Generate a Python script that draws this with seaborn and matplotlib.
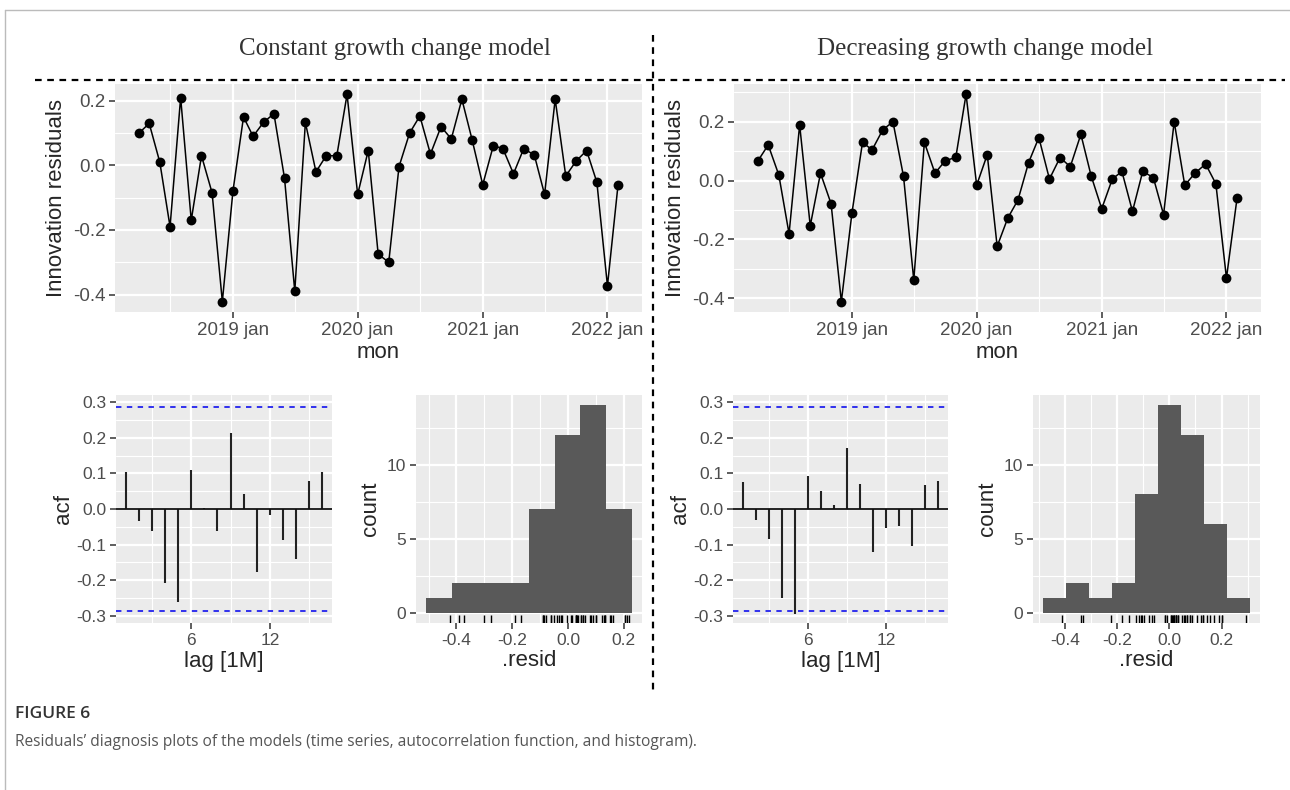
import numpy as np
import pandas as pd
import matplotlib
matplotlib.use("Agg")
import matplotlib.pyplot as plt
from matplotlib.lines import Line2D
from matplotlib.ticker import FixedLocator, FuncFormatter
import matplotlib.dates as mdates
import seaborn as sns

# ------------------------------------------------------------------ data
months = pd.date_range("2018-04-01", periods=47, freq="MS")

resid_constant = [0.10, 0.13, 0.01, -0.19, 0.21, -0.17, 0.03, -0.085, -0.422, -0.08,
                  0.15, 0.09, 0.134, 0.16, -0.040, -0.39, 0.133, -0.02, 0.03, 0.03,
                  0.22, -0.09, 0.046, -0.275, -0.30, -0.004, 0.10, 0.153, 0.035, 0.12,
                  0.082, 0.205, 0.079, -0.06, 0.061, 0.052, -0.026, 0.052, 0.032, -0.09,
                  0.205, -0.033, 0.013, 0.046, -0.052, -0.373, -0.06]

resid_decreasing = [0.067, 0.121, 0.019, -0.181, 0.189, -0.154, 0.025, -0.079, -0.412, -0.111,
                    0.130, 0.104, 0.172, 0.200, 0.014, -0.339, 0.130, 0.025, 0.067, 0.079,
                    0.293, -0.016, 0.088, -0.224, -0.128, -0.066, 0.061, 0.146, 0.005, 0.078,
                    0.047, 0.157, 0.016, -0.096, 0.005, 0.031, -0.105, 0.031, 0.010, -0.116,
                    0.200, -0.016, 0.025, 0.056, -0.011, -0.332, -0.060]

acf_lags = list(range(1, 17))
acf_constant = [0.103, -0.035, -0.063, -0.207, -0.26, 0.11, 0.002, -0.063,
                0.213, 0.043, -0.178, -0.016, -0.088, -0.14, 0.078, 0.104]
acf_decreasing = [0.075, -0.032, -0.085, -0.25, -0.296, 0.093, 0.05, 0.012,
                  0.171, 0.071, -0.121, -0.053, -0.047, -0.105, 0.068, 0.08]

hist_edges_constant = np.linspace(-0.508, 0.228, 9)
hist_edges_decreasing = np.linspace(-0.484, 0.308, 10)

time_ticks = pd.to_datetime(["2019-01-01", "2020-01-01", "2021-01-01", "2022-01-01"])
time_minor = pd.to_datetime(["2018-07-01", "2019-07-01", "2020-07-01", "2021-07-01"])
time_tick_labels = ["2019 jan", "2020 jan", "2021 jan", "2022 jan"]

panel_titles = ["Constant growth change model", "Decreasing growth change model"]
caption_label = "FIGURE 6"
caption_text = ("Residuals\u2019 diagnosis plots of the models (time series, "
                "autocorrelation function, and histogram).")

# ------------------------------------------------------------------ style
sns.set_theme(style="darkgrid")
plt.rcParams.update({
    "font.family": ["Liberation Sans", "DejaVu Sans"],
    "axes.facecolor": "#EBEBEB",
    "figure.facecolor": "white",
    "grid.color": "white",
    "axes.edgecolor": "#EBEBEB",
})

W, H = 1290, 790
fig = plt.figure(figsize=(W / 100, H / 100), dpi=100)


def rect(x0, x1, y0, y1):
    return [x0 / W, 1 - y1 / H, (x1 - x0) / W, (y1 - y0) / H]


TICK_COL = "#4D4D4D"
LBL_SIZE = 16


def fmt1(v, pos=None):
    s = f"{v:.1f}"
    return "0.0" if s == "-0.0" else s


def style_axes(ax, major_x, minor_x, major_y, minor_y, tick_size):
    for s in ax.spines.values():
        s.set_visible(False)
    ax.xaxis.set_major_locator(FixedLocator(major_x))
    ax.xaxis.set_minor_locator(FixedLocator(minor_x))
    ax.yaxis.set_major_locator(FixedLocator(major_y))
    ax.yaxis.set_minor_locator(FixedLocator(minor_y))
    ax.grid(which="major", color="white", lw=1.6)
    ax.grid(which="minor", color="white", lw=0.8)
    ax.set_axisbelow(True)
    ax.tick_params(which="major", length=4, width=1.1, color="#333333",
                   labelcolor=TICK_COL, labelsize=tick_size, pad=3,
                   bottom=True, left=True)
    ax.tick_params(which="minor", length=0)


def ts_panel(ax, resid):
    sns.lineplot(x=months, y=resid, ax=ax, color="black", lw=1.1)
    sns.scatterplot(x=months, y=resid, ax=ax, color="black", s=50,
                    edgecolor="black", linewidth=0, zorder=3)
    x0, x1 = mdates.date2num(months[0]), mdates.date2num(months[-1])
    px = 0.05 * (x1 - x0)
    ax.set_xlim(x0 - px, x1 + px)
    lo, hi = min(resid), max(resid)
    py = 0.05 * (hi - lo)
    ax.set_ylim(lo - py, hi + py)
    style_axes(ax, mdates.date2num(time_ticks), mdates.date2num(time_minor),
               [-0.4, -0.2, 0.0, 0.2], [-0.3, -0.1, 0.1, 0.3], 13.5)
    ax.set_xticklabels(time_tick_labels)
    ax.yaxis.set_major_formatter(FuncFormatter(fmt1))
    ax.set_xlabel("mon", fontsize=LBL_SIZE, labelpad=2)
    ax.set_ylabel("Innovation residuals", fontsize=LBL_SIZE, labelpad=4)


def acf_panel(ax, acf):
    n = len(resid_constant)
    bound = 1.96 / np.sqrt(n)
    ax.vlines(acf_lags, 0, acf, color="#222222", lw=1.5)
    ax.axhline(0, color="#111111", lw=1.3)
    ax.axhline(bound, color="#2222EE", lw=1.3, ls=(0, (3, 3)))
    ax.axhline(-bound, color="#2222EE", lw=1.3, ls=(0, (3, 3)))
    span = acf_lags[-1] - acf_lags[0]
    ax.set_xlim(acf_lags[0] - 0.05 * span, acf_lags[-1] + 0.05 * span)
    ax.set_ylim(-0.32, 0.32)
    style_axes(ax, [6, 12], [3, 9, 15],
               [-0.3, -0.2, -0.1, 0.0, 0.1, 0.2, 0.3],
               [-0.25, -0.15, -0.05, 0.05, 0.15, 0.25], 12.5)
    ax.yaxis.set_major_formatter(FuncFormatter(fmt1))
    ax.set_xlabel("lag [1M]", fontsize=LBL_SIZE, labelpad=2)
    ax.set_ylabel("acf", fontsize=LBL_SIZE, labelpad=2)


def hist_panel(ax, resid, edges, minor_x):
    sns.histplot(x=resid, bins=edges, ax=ax, color="#595959", alpha=1,
                 linewidth=0, edgecolor="#595959")
    sns.rugplot(x=resid, ax=ax, height=0.035, color="black", lw=1.2)
    span = edges[-1] - edges[0]
    ax.set_xlim(edges[0] - 0.05 * span, edges[-1] + 0.05 * span)
    counts, _ = np.histogram(resid, bins=edges)
    top = counts.max()
    ax.set_ylim(-0.05 * top, top * 1.05)
    style_axes(ax, [-0.4, -0.2, 0.0, 0.2], minor_x, [0, 5, 10], [2.5, 7.5, 12.5], 12.5)
    ax.xaxis.set_major_formatter(FuncFormatter(fmt1))
    ax.set_xlabel(".resid", fontsize=LBL_SIZE, labelpad=2)
    ax.set_ylabel("count", fontsize=LBL_SIZE, labelpad=4)


ax_ts1 = fig.add_axes(rect(115, 642, 84, 312))
ax_ts2 = fig.add_axes(rect(734, 1261, 84, 312))
ax_acf1 = fig.add_axes(rect(116, 332, 395, 623))
ax_hist1 = fig.add_axes(rect(416, 642, 395, 623))
ax_acf2 = fig.add_axes(rect(733, 948, 395, 623))
ax_hist2 = fig.add_axes(rect(1033, 1260, 395, 623))

ts_panel(ax_ts1, resid_constant)
ts_panel(ax_ts2, resid_decreasing)
acf_panel(ax_acf1, acf_constant)
acf_panel(ax_acf2, acf_decreasing)
hist_panel(ax_hist1, resid_constant, hist_edges_constant, [-0.5, -0.3, -0.1, 0.1])
hist_panel(ax_hist2, resid_decreasing, hist_edges_decreasing, [-0.5, -0.3, -0.1, 0.1, 0.3])

# ------------------------------------------------------------------ decorations
fig.text(395 / W, 1 - 49 / H, panel_titles[0], ha="center", va="center",
         family=["Liberation Serif"], fontsize=18, color="#333333")
fig.text(985 / W, 1 - 49 / H, panel_titles[1], ha="center", va="center",
         family=["Liberation Serif"], fontsize=18, color="#333333")

fig.add_artist(Line2D([35 / W, 1285 / W], [1 - 80 / H, 1 - 80 / H],
                      transform=fig.transFigure, color="black", lw=1.6,
                      ls=(0, (3, 2.5))))
fig.add_artist(Line2D([653 / W, 653 / W], [1 - 35 / H, 1 - 690 / H],
                      transform=fig.transFigure, color="black", lw=1.6,
                      ls=(0, (3, 2.5))))

# frame of the figure box
fig.add_artist(Line2D([5 / W, 1.0], [1 - 10 / H, 1 - 10 / H],
                      transform=fig.transFigure, color="#BBBBBB", lw=1.0))
fig.add_artist(Line2D([5 / W, 5 / W], [1 - 10 / H, 0.0],
                      transform=fig.transFigure, color="#BBBBBB", lw=1.0))

fig.text(15 / W, 1 - 714 / H, caption_label, ha="left", va="center",
         family=["Open Sans", "DejaVu Sans"], fontsize=12.5, fontweight="semibold",
         color="#333333")
fig.text(15 / W, 1 - 742 / H, caption_text, ha="left", va="center",
         family=["Open Sans", "DejaVu Sans"], fontsize=11.2, color="#555555")

fig.savefig("out.png", dpi=100)
